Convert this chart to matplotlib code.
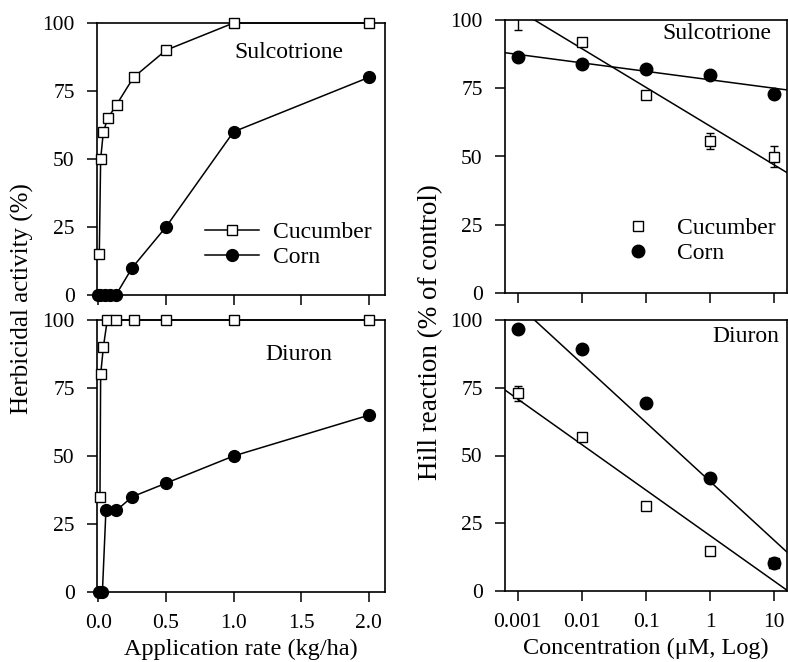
import numpy as np
import matplotlib
matplotlib.use("Agg")
import matplotlib.pyplot as plt
from matplotlib.lines import Line2D
from matplotlib.ticker import FixedLocator, NullLocator, FuncFormatter

plt.rcParams["font.family"] = ["Liberation Serif", "DejaVu Serif"]

# --- left panels: herbicidal activity vs application rate ---
sul_cuc_rate = [0.007, 0.017, 0.037, 0.07, 0.135, 0.26, 0.5, 1.0, 2.0]
sul_cuc_act = [15, 50, 60, 65, 70, 80, 90, 100, 100]
sul_corn_rate = [0.0, 0.012, 0.05, 0.085, 0.13, 0.25, 0.5, 1.0, 2.0]
sul_corn_act = [0, 0, 0, 0, 0, 10, 25, 60, 80]

diu_cuc_rate = [0.012, 0.017, 0.037, 0.066, 0.134, 0.26, 0.5, 1.0, 2.0]
diu_cuc_act = [35, 80, 90, 100, 100, 100, 100, 100, 100]
diu_corn_rate = [0.004, 0.03, 0.056, 0.134, 0.25, 0.5, 1.0, 2.0]
diu_corn_act = [0, 0, 30, 30, 35, 40, 50, 65]

rate_ticks = [0.0, 0.5, 1.0, 1.5, 2.0]
pct_ticks = [0, 25, 50, 75, 100]

# --- right panels: Hill reaction vs concentration ---
conc = [0.001, 0.01, 0.1, 1, 10]
hill_sul_cuc = [103, 92, 72.7, 55.6, 49.9]
hill_sul_cuc_err = [6.7, 0, 0, 3.0, 3.9]
hill_sul_corn = [86.3, 83.9, 82.0, 79.8, 72.9]
hill_diu_cuc = [72.9, 56.7, 31.4, 14.9, 10.2]
hill_diu_cuc_err = [2.9, 0, 0, 0, 0]
hill_diu_corn = [96.8, 89.4, 69.2, 41.8, 10.2]

# regression lines: y = a + b * log10(conc)
fit_sul_cuc = (61.1, -14.2)
fit_sul_corn = (78.1, -3.1)
fit_diu_cuc = (20.4, -16.8)
fit_diu_corn = (40.4, -21.75)

W, H = 788, 662
fig = plt.figure(figsize=(W / 100, H / 100), dpi=100)


def px_axes(x0, y0, x1, y1):
    return fig.add_axes([x0 / W, 1 - y1 / H, (x1 - x0) / W, (y1 - y0) / H])


TICK_FS = 15.5
TEXT_FS = 17

sq = dict(marker="s", ms=7.5, mfc="white", mec="black", mew=1.0, color="black", lw=1.1)
dot = dict(marker="o", ms=8.5, mfc="black", mec="black", color="black", lw=1.1)


def style(ax):
    for s in ax.spines.values():
        s.set_linewidth(1.2)
    ax.tick_params(direction="out", length=7, width=1.1, labelsize=TICK_FS,
                   top=False, right=False)
    ax.tick_params(axis="x", pad=9)
    ax.tick_params(axis="y", pad=9)


ax_tl = px_axes(97, 23, 385, 295)
ax_bl = px_axes(97, 320, 385, 592)
ax_tr = px_axes(505, 20, 786.5, 293)
ax_br = px_axes(505, 320, 786.5, 591)

for ax, cx, cy, kx, ky, name, tpos in [
    (ax_tl, sul_cuc_rate, sul_cuc_act, sul_corn_rate, sul_corn_act, "Sulcotrione", (0.667, 0.893)),
    (ax_bl, diu_cuc_rate, diu_cuc_act, diu_corn_rate, diu_corn_act, "Diuron", (0.70, 0.875)),
]:
    ax.plot(kx, ky, clip_on=False, zorder=3, **dot)
    ax.plot(cx, cy, clip_on=False, zorder=4, **sq)
    ax.set_xlim(-0.01, 2.12)
    ax.set_ylim(0, 100)
    ax.xaxis.set_major_locator(FixedLocator(rate_ticks))
    ax.yaxis.set_major_locator(FixedLocator(pct_ticks))
    ax.xaxis.set_major_formatter(FuncFormatter(lambda v, p: f"{v:.1f}"))
    ax.text(*tpos, name, transform=ax.transAxes, ha="center", va="center", fontsize=TEXT_FS)
    style(ax)

ax_tl.tick_params(labelbottom=False)
ax_bl.set_xlabel("Application rate (kg/ha)", fontsize=17.5, labelpad=4)

handles = [Line2D([], [], **sq), Line2D([], [], **dot)]
ax_tl.legend(handles, ["Cucumber", "Corn"], loc="center left", bbox_to_anchor=(0.375, 0.184),
             frameon=False, fontsize=TEXT_FS, handlelength=2.3, handletextpad=0.6,
             borderpad=0, borderaxespad=0, labelspacing=0.15)

xs = np.logspace(-3.2, 1.2, 60)
for ax, cuc, cerr, corn, fc, fk, name, tpos in [
    (ax_tr, hill_sul_cuc, hill_sul_cuc_err, hill_sul_corn, fit_sul_cuc, fit_sul_corn,
     "Sulcotrione", (0.752, 0.949)),
    (ax_br, hill_diu_cuc, hill_diu_cuc_err, hill_diu_corn, fit_diu_cuc, fit_diu_corn,
     "Diuron", (0.857, 0.938)),
]:
    ax.set_xscale("log")
    ax.plot(xs, fc[0] + fc[1] * np.log10(xs), color="black", lw=1.1, zorder=2)
    ax.plot(xs, fk[0] + fk[1] * np.log10(xs), color="black", lw=1.1, zorder=2)
    ax.errorbar(conc, cuc, yerr=cerr, fmt="none", ecolor="black", elinewidth=1.0,
                capsize=3, capthick=1.0, zorder=3)
    ax.plot(conc, cuc, ls="none", marker="s", ms=7.5, mfc="white", mec="black", mew=1.0, zorder=4)
    ax.plot(conc, corn, ls="none", marker="o", ms=9, mfc="black", mec="black", zorder=5)
    ax.set_xlim(10 ** -3.2, 10 ** 1.19)
    ax.set_ylim(0, 100)
    ax.xaxis.set_major_locator(FixedLocator(conc))
    ax.xaxis.set_minor_locator(NullLocator())
    ax.xaxis.set_major_formatter(FuncFormatter(lambda v, p: f"{v:g}"))
    ax.yaxis.set_major_locator(FixedLocator(pct_ticks))
    ax.text(*tpos, name, transform=ax.transAxes, ha="center", va="center", fontsize=TEXT_FS)
    style(ax)

ax_tr.tick_params(labelbottom=False)
ax_br.set_xlabel("Concentration (\u03bcM, Log)", fontsize=17.5, labelpad=4)

handles_r = [Line2D([], [], ls="none", marker="s", ms=7.5, mfc="white", mec="black"),
             Line2D([], [], ls="none", marker="o", ms=9, mfc="black", mec="black")]
ax_tr.legend(handles_r, ["Cucumber", "Corn"], loc="center left", bbox_to_anchor=(0.429, 0.192),
             frameon=False, fontsize=TEXT_FS, handlelength=1.0, handletextpad=1.15,
             borderpad=0, borderaxespad=0, labelspacing=0.15)

fig.text(22 / W, 1 - 299 / H, "Herbicidal activity (%)", rotation=90, ha="center", va="center",
         fontsize=18)
fig.text(431 / W, 1 - 332 / H, "Hill reaction (% of control)", rotation=90, ha="center",
         va="center", fontsize=19.5)

fig.savefig("out.png", dpi=100, facecolor="white")
